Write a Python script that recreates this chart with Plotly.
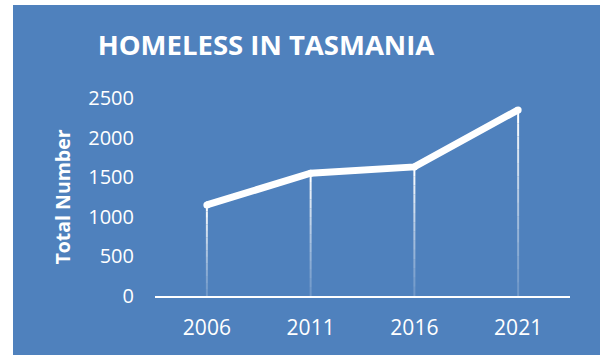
import plotly.graph_objects as go

years = ["2006", "2011", "2016", "2021"]
homeless = [1150, 1550, 1630, 2350]
y_ticks = [0, 500, 1000, 1500, 2000, 2500]

BLUE = "#4F81BD"
W, H = 600, 355
L, R, T, B = 155, 30, 98, 59

fig = go.Figure()

# gradient drop lines (fade toward the axis)
N = 14
for k in range(N):
    f0, f1 = k / N, (k + 1) / N
    xs, ys = [], []
    for yr, v in zip(years, homeless):
        xs += [yr, yr, None]
        ys += [v * f0, v * f1, None]
    fig.add_trace(go.Scatter(
        x=xs, y=ys, mode="lines",
        line=dict(color="white", width=2),
        opacity=0.15 + 0.85 * (f1 ** 1.2),
        hoverinfo="skip", showlegend=False))

fig.add_trace(go.Scatter(
    x=years, y=homeless, mode="lines+markers",
    line=dict(color="white", width=7),
    marker=dict(color="white", size=7),
    showlegend=False))

pw = W - L - R
ph = H - T - B
# white border strips (left and top) outside the blue chart box
fig.add_shape(type="rect", xref="paper", yref="paper",
              x0=-L / pw, x1=(13 - L) / pw, y0=-B / ph - 0.1, y1=(H - B) / ph + 0.1,
              fillcolor="white", line_width=0, layer="below")
fig.add_shape(type="rect", xref="paper", yref="paper",
              x0=-L / pw, x1=(W - L) / pw + 0.1, y0=(H - B - 5) / ph, y1=(H - B) / ph + 0.1,
              fillcolor="white", line_width=0, layer="below")

fig.update_layout(
    width=W, height=H,
    margin=dict(l=L, r=R, t=T, b=B, pad=0),
    paper_bgcolor=BLUE, plot_bgcolor=BLUE,
    font=dict(family="Open Sans", color="white"),
    title=dict(text="<b>HOMELESS IN TASMANIA</b>",
               font=dict(family="Open Sans", size=27.5, color="white"),
               x=266 / W, xref="container", xanchor="center",
               y=1 - 45 / H, yref="container", yanchor="middle"),
    xaxis=dict(type="category", range=[-0.5, 3.5], showgrid=False,
               showline=True, linecolor="white", linewidth=2,
               ticks="", tickfont=dict(size=21, color="white"),
               ticklabelstandoff=12, zeroline=False, fixedrange=True),
    yaxis=dict(range=[0, 2500], tickvals=y_ticks, showgrid=False,
               showline=False, zeroline=False, ticks="",
               tickfont=dict(size=20, color="white"),
               ticklabelstandoff=20,
               title=dict(text="<b>Total Number</b>",
                          font=dict(size=19.5, color="white"), standoff=12)),
)

fig.write_html("out.html")
